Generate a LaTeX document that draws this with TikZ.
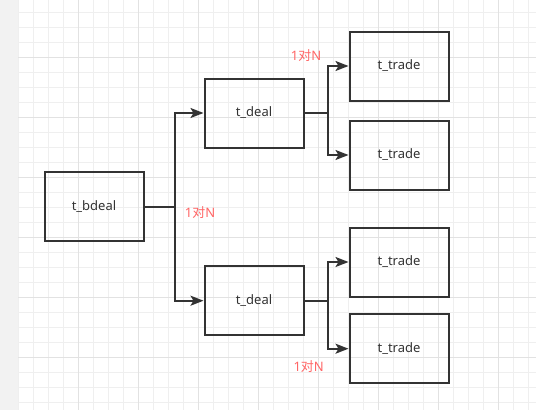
\documentclass[tikz,border=0pt]{standalone}
\usepackage{fontspec}
\setmainfont{Noto Sans}
\newfontfamily\cjk{Noto Sans CJK SC}
\usepackage{xcolor}
\usetikzlibrary{arrows.meta}
\definecolor{ink}{HTML}{333333}
\definecolor{note}{HTML}{FF6666}
\definecolor{minorgrid}{HTML}{EFEFEF}
\definecolor{majorgrid}{HTML}{E2E2E2}
\definecolor{strip}{HTML}{F2F2F2}

\begin{document}
\begin{tikzpicture}[x=1pt,y=-1pt,inner sep=1pt,
  table/.style={draw=ink,line width=2pt,minimum width=99pt,minimum height=69pt,text=ink,font=\fontsize{13}{15}\selectfont},
  link/.style={draw=ink,line width=2pt,-{Stealth[length=13pt,width=10pt,inset=3pt]}},
  ratio/.style={text=note,font=\fontsize{13}{15}\selectfont}]
\useasboundingbox (0,0) rectangle (536,410);

% grid background
\fill[white] (0,0) rectangle (536,410);
\fill[strip] (0,0) rectangle (18,410);
\foreach \i in {0,...,34} \draw[minorgrid,line width=0.8pt] (18.3+15*\i,0) -- (18.3+15*\i,410);
\foreach \i in {0,...,26} \draw[minorgrid,line width=0.8pt] (18,12.3+15*\i) -- (536,12.3+15*\i);
\foreach \i in {1,...,8} \draw[majorgrid,line width=0.8pt] (18.3+60*\i,0) -- (18.3+60*\i,410);
\foreach \i in {0,...,5} \draw[majorgrid,line width=0.8pt] (18,57.3+60*\i) -- (536,57.3+60*\i);

% tables
\node[table] (bdeal) at (94,206.5) {t\_bdeal};
\node[table] (dealA) at (254,113) {t\_deal};
\node[table] (dealB) at (254,300.7) {t\_deal};
\node[table] (tradeA) at (399,66) {t\_trade};
\node[table] (tradeB) at (399,155) {t\_trade};
\node[table] (tradeC) at (399,262) {t\_trade};
\node[table] (tradeD) at (399,348.7) {t\_trade};

% links
\path[link] (bdeal.east) -- ++(30,0) |- (dealA.west);
\path[link] (bdeal.east) -- ++(30,0) |- (dealB.west);
\path[link] (dealA.east) -- ++(23,0) |- (tradeA.west);
\path[link] (dealA.east) -- ++(23,0) |- (tradeB.west);
\path[link] (dealB.east) -- ++(23,0) |- (tradeC.west);
\path[link] (dealB.east) -- ++(23,0) |- (tradeD.west);

% ratios
\node[ratio] (rbdeal) at (200,212.5) {1{\cjk 对}N};
\node[ratio] (rdealA) at (306,56) {1{\cjk 对}N};
\node[ratio] (rdealB) at (308.7,367) {1{\cjk 对}N};

\end{tikzpicture}
\end{document}
